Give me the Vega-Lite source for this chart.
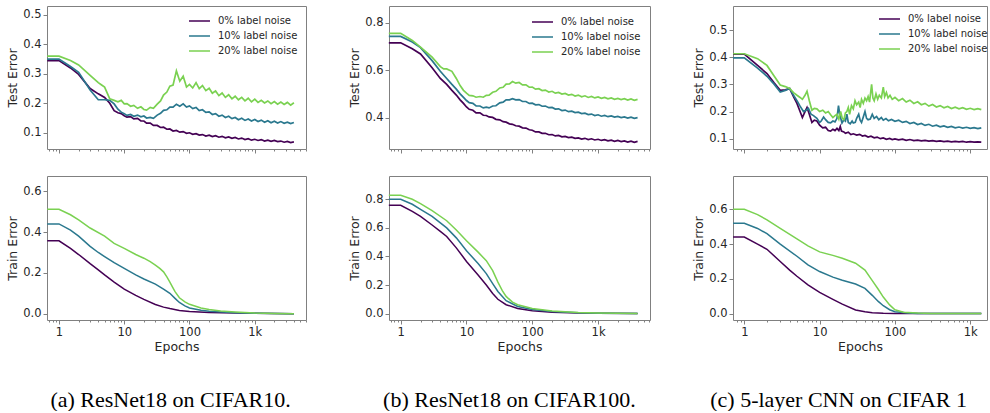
{
"$schema": "https://vega.github.io/schema/vega-lite/v6.json",
"background": "white",
"padding": {"left": 6, "top": 5, "right": 0, "bottom": 0},
"config": {
  "font": "DejaVu Sans",
  "view": {"stroke": "#808080", "strokeWidth": 1},
  "axis": {"domain": false, "grid": false, "tickColor": "#808080", "labelColor": "#262626", "titleColor": "#262626", "labelFontSize": 11.5, "titleFontSize": 12.5, "titleFontWeight": "normal", "labelFont": "DejaVu Sans", "titleFont": "DejaVu Sans", "tickSize": 4, "labelPadding": 2, "titlePadding": 3, "labelOverlap": false, "labelFlush": false},
  "legend": {"padding": 0, "symbolType": "stroke", "symbolSize": 441, "symbolStrokeWidth": 1.5, "labelFontSize": 10, "labelColor": "#262626", "labelFont": "DejaVu Sans", "labelOffset": 7, "rowPadding": 1, "clipHeight": 14},
  "title": {"font": "Liberation Serif", "fontSize": 22, "fontWeight": "normal", "color": "black", "orient": "bottom", "baseline": "alphabetic", "offset": 36}
},
"datasets": {
"a": [
{"m":"test","s":0,"e":0.66,"v":0.345},{"m":"test","s":0,"e":1,"v":0.345},{"m":"test","s":0,"e":1.5,"v":0.32},{"m":"test","s":0,"e":2,"v":0.298},{"m":"test","s":0,"e":3,"v":0.25},{"m":"test","s":0,"e":4,"v":0.232},{"m":"test","s":0,"e":5,"v":0.22},{"m":"test","s":0,"e":6,"v":0.2},{"m":"test","s":0,"e":7,"v":0.175},{"m":"test","s":0,"e":8,"v":0.168},{"m":"test","s":0,"e":9,"v":0.165},{"m":"test","s":0,"e":10,"v":0.158},
{"m":"test","s":0,"e":11,"v":0.153},{"m":"test","s":0,"e":12.5,"v":0.155},{"m":"test","s":0,"e":14,"v":0.147},{"m":"test","s":0,"e":16,"v":0.149},{"m":"test","s":0,"e":18,"v":0.14},{"m":"test","s":0,"e":20,"v":0.14},{"m":"test","s":0,"e":22,"v":0.133},{"m":"test","s":0,"e":25,"v":0.133},{"m":"test","s":0,"e":28,"v":0.125},{"m":"test","s":0,"e":32,"v":0.125},{"m":"test","s":0,"e":36,"v":0.118},{"m":"test","s":0,"e":40,"v":0.119},{"m":"test","s":0,"e":45,"v":0.112},{"m":"test","s":0,"e":50,"v":0.113},{"m":"test","s":0,"e":56,"v":0.106},{"m":"test","s":0,"e":63,"v":0.108},{"m":"test","s":0,"e":71,"v":0.102},{"m":"test","s":0,"e":80,"v":0.104},{"m":"test","s":0,"e":90,"v":0.098},{"m":"test","s":0,"e":100,"v":0.1},{"m":"test","s":0,"e":112,"v":0.095},{"m":"test","s":0,"e":126,"v":0.097},{"m":"test","s":0,"e":141,"v":0.092},{"m":"test","s":0,"e":158,"v":0.094},{"m":"test","s":0,"e":178,"v":0.089},{"m":"test","s":0,"e":200,"v":0.092},{"m":"test","s":0,"e":224,"v":0.087},{"m":"test","s":0,"e":251,"v":0.09},{"m":"test","s":0,"e":282,"v":0.085},{"m":"test","s":0,"e":316,"v":0.088},{"m":"test","s":0,"e":355,"v":0.083},{"m":"test","s":0,"e":398,"v":0.086},{"m":"test","s":0,"e":447,"v":0.081},{"m":"test","s":0,"e":501,"v":0.084},{"m":"test","s":0,"e":562,"v":0.079},{"m":"test","s":0,"e":631,"v":0.082},{"m":"test","s":0,"e":708,"v":0.077},{"m":"test","s":0,"e":794,"v":0.08},{"m":"test","s":0,"e":891,"v":0.075},{"m":"test","s":0,"e":1000,"v":0.078},{"m":"test","s":0,"e":1122,"v":0.074},{"m":"test","s":0,"e":1259,"v":0.077},{"m":"test","s":0,"e":1413,"v":0.072},{"m":"test","s":0,"e":1585,"v":0.075},{"m":"test","s":0,"e":1778,"v":0.071},{"m":"test","s":0,"e":1995,"v":0.074},{"m":"test","s":0,"e":2239,"v":0.07},{"m":"test","s":0,"e":2512,"v":0.072},{"m":"test","s":0,"e":2818,"v":0.068},{"m":"test","s":0,"e":3162,"v":0.071},{"m":"test","s":0,"e":3548,"v":0.067},{"m":"test","s":0,"e":3981,"v":0.069},
{"m":"test","s":10,"e":0.66,"v":0.35},{"m":"test","s":10,"e":1,"v":0.35},{"m":"test","s":10,"e":1.5,"v":0.325},{"m":"test","s":10,"e":2,"v":0.305},{"m":"test","s":10,"e":3,"v":0.245},{"m":"test","s":10,"e":4,"v":0.212},{"m":"test","s":10,"e":5,"v":0.212},{"m":"test","s":10,"e":6,"v":0.21},{"m":"test","s":10,"e":7,"v":0.198},{"m":"test","s":10,"e":8,"v":0.18},{"m":"test","s":10,"e":9,"v":0.17},{"m":"test","s":10,"e":10,"v":0.165},
{"m":"test","s":10,"e":11,"v":0.159},{"m":"test","s":10,"e":12.5,"v":0.162},{"m":"test","s":10,"e":14,"v":0.156},{"m":"test","s":10,"e":16,"v":0.16},{"m":"test","s":10,"e":18,"v":0.154},{"m":"test","s":10,"e":20,"v":0.157},{"m":"test","s":10,"e":22,"v":0.15},{"m":"test","s":10,"e":25,"v":0.152},{"m":"test","s":10,"e":28,"v":0.149},{"m":"test","s":10,"e":32,"v":0.16},{"m":"test","s":10,"e":36,"v":0.166},{"m":"test","s":10,"e":40,"v":0.176},{"m":"test","s":10,"e":45,"v":0.178},{"m":"test","s":10,"e":50,"v":0.187},{"m":"test","s":10,"e":56,"v":0.187},{"m":"test","s":10,"e":63,"v":0.197},{"m":"test","s":10,"e":71,"v":0.19},{"m":"test","s":10,"e":80,"v":0.198},{"m":"test","s":10,"e":90,"v":0.187},{"m":"test","s":10,"e":100,"v":0.191},{"m":"test","s":10,"e":112,"v":0.182},{"m":"test","s":10,"e":126,"v":0.186},{"m":"test","s":10,"e":141,"v":0.175},{"m":"test","s":10,"e":158,"v":0.178},{"m":"test","s":10,"e":178,"v":0.169},{"m":"test","s":10,"e":200,"v":0.171},{"m":"test","s":10,"e":224,"v":0.162},{"m":"test","s":10,"e":251,"v":0.165},{"m":"test","s":10,"e":282,"v":0.156},{"m":"test","s":10,"e":316,"v":0.16},{"m":"test","s":10,"e":355,"v":0.152},{"m":"test","s":10,"e":398,"v":0.156},{"m":"test","s":10,"e":447,"v":0.148},{"m":"test","s":10,"e":501,"v":0.152},{"m":"test","s":10,"e":562,"v":0.144},{"m":"test","s":10,"e":631,"v":0.149},{"m":"test","s":10,"e":708,"v":0.142},{"m":"test","s":10,"e":794,"v":0.147},{"m":"test","s":10,"e":891,"v":0.14},{"m":"test","s":10,"e":1000,"v":0.145},{"m":"test","s":10,"e":1122,"v":0.138},{"m":"test","s":10,"e":1259,"v":0.143},{"m":"test","s":10,"e":1413,"v":0.136},{"m":"test","s":10,"e":1585,"v":0.141},{"m":"test","s":10,"e":1778,"v":0.134},{"m":"test","s":10,"e":1995,"v":0.139},{"m":"test","s":10,"e":2239,"v":0.133},{"m":"test","s":10,"e":2512,"v":0.138},{"m":"test","s":10,"e":2818,"v":0.132},{"m":"test","s":10,"e":3162,"v":0.136},{"m":"test","s":10,"e":3548,"v":0.131},{"m":"test","s":10,"e":3981,"v":0.135},
{"m":"test","s":20,"e":0.66,"v":0.36},{"m":"test","s":20,"e":1,"v":0.36},{"m":"test","s":20,"e":1.5,"v":0.345},{"m":"test","s":20,"e":2,"v":0.33},{"m":"test","s":20,"e":3,"v":0.295},{"m":"test","s":20,"e":4,"v":0.27},{"m":"test","s":20,"e":4.5,"v":0.262},{"m":"test","s":20,"e":5,"v":0.255},{"m":"test","s":20,"e":6,"v":0.215},{"m":"test","s":20,"e":7,"v":0.21},{"m":"test","s":20,"e":8,"v":0.205},{"m":"test","s":20,"e":9,"v":0.21},{"m":"test","s":20,"e":10,"v":0.198},
{"m":"test","s":20,"e":11,"v":0.199},{"m":"test","s":20,"e":12.5,"v":0.19},{"m":"test","s":20,"e":14,"v":0.193},{"m":"test","s":20,"e":16,"v":0.183},{"m":"test","s":20,"e":18,"v":0.188},{"m":"test","s":20,"e":20,"v":0.179},{"m":"test","s":20,"e":22,"v":0.177},{"m":"test","s":20,"e":25,"v":0.186},{"m":"test","s":20,"e":28,"v":0.183},{"m":"test","s":20,"e":32,"v":0.197},{"m":"test","s":20,"e":36,"v":0.208},{"m":"test","s":20,"e":40,"v":0.228},{"m":"test","s":20,"e":45,"v":0.238},{"m":"test","s":20,"e":50,"v":0.258},{"m":"test","s":20,"e":56,"v":0.262},{"m":"test","s":20,"e":63,"v":0.31},{"m":"test","s":20,"e":71,"v":0.275},{"m":"test","s":20,"e":80,"v":0.292},{"m":"test","s":20,"e":90,"v":0.255},{"m":"test","s":20,"e":100,"v":0.264},{"m":"test","s":20,"e":112,"v":0.252},{"m":"test","s":20,"e":126,"v":0.27},{"m":"test","s":20,"e":141,"v":0.25},{"m":"test","s":20,"e":158,"v":0.26},{"m":"test","s":20,"e":178,"v":0.243},{"m":"test","s":20,"e":200,"v":0.251},{"m":"test","s":20,"e":224,"v":0.234},{"m":"test","s":20,"e":251,"v":0.242},{"m":"test","s":20,"e":282,"v":0.226},{"m":"test","s":20,"e":316,"v":0.235},{"m":"test","s":20,"e":355,"v":0.22},{"m":"test","s":20,"e":398,"v":0.229},{"m":"test","s":20,"e":447,"v":0.215},{"m":"test","s":20,"e":501,"v":0.224},{"m":"test","s":20,"e":562,"v":0.212},{"m":"test","s":20,"e":631,"v":0.22},{"m":"test","s":20,"e":708,"v":0.208},{"m":"test","s":20,"e":794,"v":0.217},{"m":"test","s":20,"e":891,"v":0.205},{"m":"test","s":20,"e":1000,"v":0.214},{"m":"test","s":20,"e":1122,"v":0.203},{"m":"test","s":20,"e":1259,"v":0.21},{"m":"test","s":20,"e":1413,"v":0.201},{"m":"test","s":20,"e":1585,"v":0.208},{"m":"test","s":20,"e":1778,"v":0.199},{"m":"test","s":20,"e":1995,"v":0.206},{"m":"test","s":20,"e":2239,"v":0.197},{"m":"test","s":20,"e":2512,"v":0.204},{"m":"test","s":20,"e":2818,"v":0.196},{"m":"test","s":20,"e":3162,"v":0.203},{"m":"test","s":20,"e":3548,"v":0.194},{"m":"test","s":20,"e":3981,"v":0.202},
{"m":"train","s":0,"e":0.66,"v":0.357},{"m":"train","s":0,"e":1,"v":0.357},{"m":"train","s":0,"e":1.5,"v":0.32},{"m":"train","s":0,"e":2,"v":0.29},{"m":"train","s":0,"e":3,"v":0.245},{"m":"train","s":0,"e":4,"v":0.215},{"m":"train","s":0,"e":5,"v":0.19},{"m":"train","s":0,"e":7,"v":0.155},{"m":"train","s":0,"e":10,"v":0.12},{"m":"train","s":0,"e":15,"v":0.09},{"m":"train","s":0,"e":20,"v":0.07},{"m":"train","s":0,"e":30,"v":0.045},{"m":"train","s":0,"e":40,"v":0.032},{"m":"train","s":0,"e":50,"v":0.025},{"m":"train","s":0,"e":70,"v":0.016},{"m":"train","s":0,"e":100,"v":0.011},{"m":"train","s":0,"e":200,"v":0.006},{"m":"train","s":0,"e":500,"v":0.003},{"m":"train","s":0,"e":1000,"v":0.0015},{"m":"train","s":0,"e":2000,"v":0.0005},{"m":"train","s":0,"e":3981,"v":0},
{"m":"train","s":10,"e":0.66,"v":0.44},{"m":"train","s":10,"e":1,"v":0.44},{"m":"train","s":10,"e":1.5,"v":0.41},{"m":"train","s":10,"e":2,"v":0.38},{"m":"train","s":10,"e":3,"v":0.33},{"m":"train","s":10,"e":4,"v":0.3},{"m":"train","s":10,"e":5,"v":0.28},{"m":"train","s":10,"e":7,"v":0.25},{"m":"train","s":10,"e":10,"v":0.222},{"m":"train","s":10,"e":15,"v":0.19},{"m":"train","s":10,"e":20,"v":0.17},{"m":"train","s":10,"e":30,"v":0.145},{"m":"train","s":10,"e":40,"v":0.12},{"m":"train","s":10,"e":50,"v":0.1},{"m":"train","s":10,"e":60,"v":0.075},{"m":"train","s":10,"e":70,"v":0.055},{"m":"train","s":10,"e":85,"v":0.038},{"m":"train","s":10,"e":100,"v":0.028},{"m":"train","s":10,"e":150,"v":0.017},{"m":"train","s":10,"e":200,"v":0.012},{"m":"train","s":10,"e":500,"v":0.005},{"m":"train","s":10,"e":1000,"v":0.002},{"m":"train","s":10,"e":2000,"v":0.001},{"m":"train","s":10,"e":3981,"v":0},
{"m":"train","s":20,"e":0.66,"v":0.512},{"m":"train","s":20,"e":1,"v":0.512},{"m":"train","s":20,"e":1.5,"v":0.485},{"m":"train","s":20,"e":2,"v":0.46},{"m":"train","s":20,"e":3,"v":0.42},{"m":"train","s":20,"e":5,"v":0.38},{"m":"train","s":20,"e":7,"v":0.345},{"m":"train","s":20,"e":10,"v":0.32},{"m":"train","s":20,"e":15,"v":0.29},{"m":"train","s":20,"e":20,"v":0.272},{"m":"train","s":20,"e":25,"v":0.255},{"m":"train","s":20,"e":30,"v":0.238},{"m":"train","s":20,"e":35,"v":0.222},{"m":"train","s":20,"e":40,"v":0.205},{"m":"train","s":20,"e":45,"v":0.18},{"m":"train","s":20,"e":50,"v":0.155},{"m":"train","s":20,"e":55,"v":0.13},{"m":"train","s":20,"e":60,"v":0.108},{"m":"train","s":20,"e":70,"v":0.078},{"m":"train","s":20,"e":85,"v":0.058},{"m":"train","s":20,"e":100,"v":0.046},{"m":"train","s":20,"e":150,"v":0.028},{"m":"train","s":20,"e":200,"v":0.02},{"m":"train","s":20,"e":300,"v":0.013},{"m":"train","s":20,"e":500,"v":0.008},{"m":"train","s":20,"e":1000,"v":0.003},{"m":"train","s":20,"e":2000,"v":0.001},{"m":"train","s":20,"e":3981,"v":0}
],
"b": [
{"m":"test","s":0,"e":0.66,"v":0.715},{"m":"test","s":0,"e":1,"v":0.715},{"m":"test","s":0,"e":1.5,"v":0.69},{"m":"test","s":0,"e":2,"v":0.668},{"m":"test","s":0,"e":3,"v":0.61},{"m":"test","s":0,"e":4,"v":0.565},{"m":"test","s":0,"e":5,"v":0.54},{"m":"test","s":0,"e":6,"v":0.515},{"m":"test","s":0,"e":7,"v":0.495},{"m":"test","s":0,"e":8,"v":0.475},{"m":"test","s":0,"e":9,"v":0.46},{"m":"test","s":0,"e":10,"v":0.445},
{"m":"test","s":0,"e":11,"v":0.435},{"m":"test","s":0,"e":12.5,"v":0.431},{"m":"test","s":0,"e":14,"v":0.42},{"m":"test","s":0,"e":16,"v":0.42},{"m":"test","s":0,"e":18,"v":0.41},{"m":"test","s":0,"e":20,"v":0.409},{"m":"test","s":0,"e":22,"v":0.403},{"m":"test","s":0,"e":25,"v":0.401},{"m":"test","s":0,"e":28,"v":0.393},{"m":"test","s":0,"e":32,"v":0.391},{"m":"test","s":0,"e":36,"v":0.383},{"m":"test","s":0,"e":40,"v":0.381},{"m":"test","s":0,"e":45,"v":0.374},{"m":"test","s":0,"e":50,"v":0.372},{"m":"test","s":0,"e":56,"v":0.366},{"m":"test","s":0,"e":63,"v":0.364},{"m":"test","s":0,"e":71,"v":0.357},{"m":"test","s":0,"e":80,"v":0.356},{"m":"test","s":0,"e":90,"v":0.349},{"m":"test","s":0,"e":100,"v":0.347},{"m":"test","s":0,"e":112,"v":0.34},{"m":"test","s":0,"e":126,"v":0.34},{"m":"test","s":0,"e":141,"v":0.334},{"m":"test","s":0,"e":158,"v":0.334},{"m":"test","s":0,"e":178,"v":0.328},{"m":"test","s":0,"e":200,"v":0.329},{"m":"test","s":0,"e":224,"v":0.323},{"m":"test","s":0,"e":251,"v":0.325},{"m":"test","s":0,"e":282,"v":0.319},{"m":"test","s":0,"e":316,"v":0.321},{"m":"test","s":0,"e":355,"v":0.316},{"m":"test","s":0,"e":398,"v":0.318},{"m":"test","s":0,"e":447,"v":0.313},{"m":"test","s":0,"e":501,"v":0.315},{"m":"test","s":0,"e":562,"v":0.31},{"m":"test","s":0,"e":631,"v":0.313},{"m":"test","s":0,"e":708,"v":0.308},{"m":"test","s":0,"e":794,"v":0.311},{"m":"test","s":0,"e":891,"v":0.306},{"m":"test","s":0,"e":1000,"v":0.309},{"m":"test","s":0,"e":1122,"v":0.304},{"m":"test","s":0,"e":1259,"v":0.307},{"m":"test","s":0,"e":1413,"v":0.302},{"m":"test","s":0,"e":1585,"v":0.305},{"m":"test","s":0,"e":1778,"v":0.3},{"m":"test","s":0,"e":1995,"v":0.304},{"m":"test","s":0,"e":2239,"v":0.299},{"m":"test","s":0,"e":2512,"v":0.302},{"m":"test","s":0,"e":2818,"v":0.297},{"m":"test","s":0,"e":3162,"v":0.301},{"m":"test","s":0,"e":3548,"v":0.296},{"m":"test","s":0,"e":3981,"v":0.3},
{"m":"test","s":10,"e":0.66,"v":0.742},{"m":"test","s":10,"e":1,"v":0.742},{"m":"test","s":10,"e":1.5,"v":0.718},{"m":"test","s":10,"e":2,"v":0.695},{"m":"test","s":10,"e":3,"v":0.64},{"m":"test","s":10,"e":4,"v":0.595},{"m":"test","s":10,"e":5,"v":0.565},{"m":"test","s":10,"e":6,"v":0.54},{"m":"test","s":10,"e":7,"v":0.52},{"m":"test","s":10,"e":8,"v":0.5},{"m":"test","s":10,"e":9,"v":0.485},{"m":"test","s":10,"e":10,"v":0.472},
{"m":"test","s":10,"e":11,"v":0.463},{"m":"test","s":10,"e":12.5,"v":0.46},{"m":"test","s":10,"e":14,"v":0.449},{"m":"test","s":10,"e":16,"v":0.449},{"m":"test","s":10,"e":18,"v":0.441},{"m":"test","s":10,"e":20,"v":0.444},{"m":"test","s":10,"e":22,"v":0.441},{"m":"test","s":10,"e":25,"v":0.449},{"m":"test","s":10,"e":28,"v":0.45},{"m":"test","s":10,"e":32,"v":0.462},{"m":"test","s":10,"e":36,"v":0.465},{"m":"test","s":10,"e":40,"v":0.475},{"m":"test","s":10,"e":45,"v":0.475},{"m":"test","s":10,"e":50,"v":0.48},{"m":"test","s":10,"e":56,"v":0.475},{"m":"test","s":10,"e":63,"v":0.476},{"m":"test","s":10,"e":71,"v":0.468},{"m":"test","s":10,"e":80,"v":0.468},{"m":"test","s":10,"e":90,"v":0.46},{"m":"test","s":10,"e":100,"v":0.461},{"m":"test","s":10,"e":112,"v":0.454},{"m":"test","s":10,"e":126,"v":0.455},{"m":"test","s":10,"e":141,"v":0.448},{"m":"test","s":10,"e":158,"v":0.449},{"m":"test","s":10,"e":178,"v":0.442},{"m":"test","s":10,"e":200,"v":0.443},{"m":"test","s":10,"e":224,"v":0.436},{"m":"test","s":10,"e":251,"v":0.437},{"m":"test","s":10,"e":282,"v":0.43},{"m":"test","s":10,"e":316,"v":0.432},{"m":"test","s":10,"e":355,"v":0.425},{"m":"test","s":10,"e":398,"v":0.427},{"m":"test","s":10,"e":447,"v":0.421},{"m":"test","s":10,"e":501,"v":0.423},{"m":"test","s":10,"e":562,"v":0.417},{"m":"test","s":10,"e":631,"v":0.419},{"m":"test","s":10,"e":708,"v":0.413},{"m":"test","s":10,"e":794,"v":0.415},{"m":"test","s":10,"e":891,"v":0.409},{"m":"test","s":10,"e":1000,"v":0.412},{"m":"test","s":10,"e":1122,"v":0.406},{"m":"test","s":10,"e":1259,"v":0.409},{"m":"test","s":10,"e":1413,"v":0.404},{"m":"test","s":10,"e":1585,"v":0.407},{"m":"test","s":10,"e":1778,"v":0.402},{"m":"test","s":10,"e":1995,"v":0.405},{"m":"test","s":10,"e":2239,"v":0.4},{"m":"test","s":10,"e":2512,"v":0.403},{"m":"test","s":10,"e":2818,"v":0.398},{"m":"test","s":10,"e":3162,"v":0.402},{"m":"test","s":10,"e":3548,"v":0.397},{"m":"test","s":10,"e":3981,"v":0.4},
{"m":"test","s":20,"e":0.66,"v":0.755},{"m":"test","s":20,"e":1,"v":0.755},{"m":"test","s":20,"e":1.5,"v":0.725},{"m":"test","s":20,"e":2,"v":0.697},{"m":"test","s":20,"e":3,"v":0.655},{"m":"test","s":20,"e":4,"v":0.615},{"m":"test","s":20,"e":4.5,"v":0.605},{"m":"test","s":20,"e":5,"v":0.605},{"m":"test","s":20,"e":6,"v":0.595},{"m":"test","s":20,"e":7,"v":0.565},{"m":"test","s":20,"e":8,"v":0.535},{"m":"test","s":20,"e":9,"v":0.515},{"m":"test","s":20,"e":10,"v":0.503},
{"m":"test","s":20,"e":11,"v":0.494},{"m":"test","s":20,"e":12.5,"v":0.492},{"m":"test","s":20,"e":14,"v":0.486},{"m":"test","s":20,"e":16,"v":0.489},{"m":"test","s":20,"e":18,"v":0.486},{"m":"test","s":20,"e":20,"v":0.494},{"m":"test","s":20,"e":22,"v":0.495},{"m":"test","s":20,"e":25,"v":0.507},{"m":"test","s":20,"e":28,"v":0.511},{"m":"test","s":20,"e":32,"v":0.525},{"m":"test","s":20,"e":36,"v":0.528},{"m":"test","s":20,"e":40,"v":0.541},{"m":"test","s":20,"e":45,"v":0.542},{"m":"test","s":20,"e":50,"v":0.552},{"m":"test","s":20,"e":56,"v":0.545},{"m":"test","s":20,"e":63,"v":0.548},{"m":"test","s":20,"e":71,"v":0.538},{"m":"test","s":20,"e":80,"v":0.538},{"m":"test","s":20,"e":90,"v":0.528},{"m":"test","s":20,"e":100,"v":0.529},{"m":"test","s":20,"e":112,"v":0.52},{"m":"test","s":20,"e":126,"v":0.522},{"m":"test","s":20,"e":141,"v":0.514},{"m":"test","s":20,"e":158,"v":0.516},{"m":"test","s":20,"e":178,"v":0.508},{"m":"test","s":20,"e":200,"v":0.511},{"m":"test","s":20,"e":224,"v":0.503},{"m":"test","s":20,"e":251,"v":0.506},{"m":"test","s":20,"e":282,"v":0.499},{"m":"test","s":20,"e":316,"v":0.502},{"m":"test","s":20,"e":355,"v":0.495},{"m":"test","s":20,"e":398,"v":0.498},{"m":"test","s":20,"e":447,"v":0.491},{"m":"test","s":20,"e":501,"v":0.495},{"m":"test","s":20,"e":562,"v":0.488},{"m":"test","s":20,"e":631,"v":0.492},{"m":"test","s":20,"e":708,"v":0.485},{"m":"test","s":20,"e":794,"v":0.489},{"m":"test","s":20,"e":891,"v":0.483},{"m":"test","s":20,"e":1000,"v":0.487},{"m":"test","s":20,"e":1122,"v":0.481},{"m":"test","s":20,"e":1259,"v":0.485},{"m":"test","s":20,"e":1413,"v":0.479},{"m":"test","s":20,"e":1585,"v":0.483},{"m":"test","s":20,"e":1778,"v":0.477},{"m":"test","s":20,"e":1995,"v":0.481},{"m":"test","s":20,"e":2239,"v":0.476},{"m":"test","s":20,"e":2512,"v":0.48},{"m":"test","s":20,"e":2818,"v":0.474},{"m":"test","s":20,"e":3162,"v":0.479},{"m":"test","s":20,"e":3548,"v":0.473},{"m":"test","s":20,"e":3981,"v":0.477},
{"m":"train","s":0,"e":0.66,"v":0.758},{"m":"train","s":0,"e":1,"v":0.758},{"m":"train","s":0,"e":1.5,"v":0.715},{"m":"train","s":0,"e":2,"v":0.68},{"m":"train","s":0,"e":3,"v":0.62},{"m":"train","s":0,"e":4,"v":0.575},{"m":"train","s":0,"e":5,"v":0.54},{"m":"train","s":0,"e":7,"v":0.46},{"m":"train","s":0,"e":10,"v":0.365},{"m":"train","s":0,"e":15,"v":0.27},{"m":"train","s":0,"e":20,"v":0.2},{"m":"train","s":0,"e":25,"v":0.14},{"m":"train","s":0,"e":30,"v":0.1},{"m":"train","s":0,"e":40,"v":0.062},{"m":"train","s":0,"e":60,"v":0.036},{"m":"train","s":0,"e":100,"v":0.02},{"m":"train","s":0,"e":200,"v":0.01},{"m":"train","s":0,"e":500,"v":0.004},{"m":"train","s":0,"e":1000,"v":0.002},{"m":"train","s":0,"e":3981,"v":0},
{"m":"train","s":10,"e":0.66,"v":0.8},{"m":"train","s":10,"e":1,"v":0.8},{"m":"train","s":10,"e":1.5,"v":0.765},{"m":"train","s":10,"e":2,"v":0.73},{"m":"train","s":10,"e":3,"v":0.68},{"m":"train","s":10,"e":5,"v":0.6},{"m":"train","s":10,"e":7,"v":0.53},{"m":"train","s":10,"e":10,"v":0.44},{"m":"train","s":10,"e":15,"v":0.35},{"m":"train","s":10,"e":20,"v":0.28},{"m":"train","s":10,"e":25,"v":0.21},{"m":"train","s":10,"e":30,"v":0.155},{"m":"train","s":10,"e":40,"v":0.09},{"m":"train","s":10,"e":60,"v":0.05},{"m":"train","s":10,"e":100,"v":0.028},{"m":"train","s":10,"e":200,"v":0.014},{"m":"train","s":10,"e":500,"v":0.006},{"m":"train","s":10,"e":1000,"v":0.003},{"m":"train","s":10,"e":3981,"v":0},
{"m":"train","s":20,"e":0.66,"v":0.828},{"m":"train","s":20,"e":1,"v":0.828},{"m":"train","s":20,"e":1.5,"v":0.8},{"m":"train","s":20,"e":2,"v":0.77},{"m":"train","s":20,"e":3,"v":0.72},{"m":"train","s":20,"e":5,"v":0.65},{"m":"train","s":20,"e":7,"v":0.585},{"m":"train","s":20,"e":10,"v":0.51},{"m":"train","s":20,"e":15,"v":0.43},{"m":"train","s":20,"e":20,"v":0.37},{"m":"train","s":20,"e":25,"v":0.3},{"m":"train","s":20,"e":30,"v":0.22},{"m":"train","s":20,"e":35,"v":0.16},{"m":"train","s":20,"e":40,"v":0.12},{"m":"train","s":20,"e":50,"v":0.08},{"m":"train","s":20,"e":60,"v":0.062},{"m":"train","s":20,"e":100,"v":0.036},{"m":"train","s":20,"e":200,"v":0.018},{"m":"train","s":20,"e":500,"v":0.008},{"m":"train","s":20,"e":1000,"v":0.004},{"m":"train","s":20,"e":3981,"v":0}
],
"c": [
{"m":"test","s":0,"e":0.71,"v":0.412},{"m":"test","s":0,"e":1,"v":0.412},{"m":"test","s":0,"e":1.5,"v":0.37},{"m":"test","s":0,"e":2,"v":0.34},{"m":"test","s":0,"e":2.5,"v":0.305},{"m":"test","s":0,"e":3,"v":0.278},{"m":"test","s":0,"e":3.5,"v":0.28},{"m":"test","s":0,"e":4,"v":0.285},{"m":"test","s":0,"e":4.5,"v":0.255},{"m":"test","s":0,"e":5,"v":0.23},{"m":"test","s":0,"e":5.5,"v":0.2},{"m":"test","s":0,"e":5.9,"v":0.178},{"m":"test","s":0,"e":6.4,"v":0.2},{"m":"test","s":0,"e":6.8,"v":0.215},{"m":"test","s":0,"e":7.3,"v":0.19},{"m":"test","s":0,"e":7.9,"v":0.16},{"m":"test","s":0,"e":8.5,"v":0.168},{"m":"test","s":0,"e":9.2,"v":0.165},{"m":"test","s":0,"e":10,"v":0.15},{"m":"test","s":0,"e":11,"v":0.14},{"m":"test","s":0,"e":12,"v":0.142},{"m":"test","s":0,"e":13,"v":0.13},{"m":"test","s":0,"e":14,"v":0.128},{"m":"test","s":0,"e":15,"v":0.135},{"m":"test","s":0,"e":16,"v":0.13},{"m":"test","s":0,"e":17,"v":0.138},{"m":"test","s":0,"e":18,"v":0.13},{"m":"test","s":0,"e":18.8,"v":0.145},{"m":"test","s":0,"e":19.5,"v":0.128},{"m":"test","s":0,"e":21,"v":0.125},{"m":"test","s":0,"e":22,"v":0.12},{"m":"test","s":0,"e":24,"v":0.124},{"m":"test","s":0,"e":26,"v":0.115},{"m":"test","s":0,"e":28,"v":0.118},{"m":"test","s":0,"e":31,"v":0.113},{"m":"test","s":0,"e":34,"v":0.116},{"m":"test","s":0,"e":37,"v":0.11},{"m":"test","s":0,"e":40,"v":0.112},{"m":"test","s":0,"e":44,"v":0.106},{"m":"test","s":0,"e":48,"v":0.109},{"m":"test","s":0,"e":53,"v":0.103},{"m":"test","s":0,"e":58,"v":0.106},{"m":"test","s":0,"e":64,"v":0.1},{"m":"test","s":0,"e":70,"v":0.103},{"m":"test","s":0,"e":77,"v":0.098},{"m":"test","s":0,"e":85,"v":0.101},{"m":"test","s":0,"e":92,"v":0.097},{"m":"test","s":0,"e":100,"v":0.099},{"m":"test","s":0,"e":112,"v":0.096},{"m":"test","s":0,"e":126,"v":0.098},{"m":"test","s":0,"e":141,"v":0.094},{"m":"test","s":0,"e":158,"v":0.097},{"m":"test","s":0,"e":178,"v":0.093},{"m":"test","s":0,"e":200,"v":0.095},{"m":"test","s":0,"e":224,"v":0.092},{"m":"test","s":0,"e":251,"v":0.094},{"m":"test","s":0,"e":282,"v":0.091},{"m":"test","s":0,"e":316,"v":0.093},{"m":"test","s":0,"e":355,"v":0.09},{"m":"test","s":0,"e":398,"v":0.092},{"m":"test","s":0,"e":447,"v":0.089},{"m":"test","s":0,"e":501,"v":0.091},{"m":"test","s":0,"e":562,"v":0.088},{"m":"test","s":0,"e":631,"v":0.09},{"m":"test","s":0,"e":708,"v":0.088},{"m":"test","s":0,"e":794,"v":0.09},{"m":"test","s":0,"e":891,"v":0.087},{"m":"test","s":0,"e":1000,"v":0.089},{"m":"test","s":0,"e":1122,"v":0.087},{"m":"test","s":0,"e":1259,"v":0.088},{"m":"test","s":0,"e":1400,"v":0.087},
{"m":"test","s":10,"e":0.71,"v":0.398},{"m":"test","s":10,"e":1,"v":0.398},{"m":"test","s":10,"e":1.5,"v":0.36},{"m":"test","s":10,"e":2,"v":0.33},{"m":"test","s":10,"e":2.5,"v":0.3},{"m":"test","s":10,"e":3,"v":0.272},{"m":"test","s":10,"e":3.5,"v":0.278},{"m":"test","s":10,"e":4,"v":0.285},{"m":"test","s":10,"e":4.5,"v":0.26},{"m":"test","s":10,"e":5,"v":0.24},{"m":"test","s":10,"e":5.5,"v":0.22},{"m":"test","s":10,"e":6.1,"v":0.2},{"m":"test","s":10,"e":6.6,"v":0.205},{"m":"test","s":10,"e":7.1,"v":0.212},{"m":"test","s":10,"e":7.7,"v":0.19},{"m":"test","s":10,"e":8.3,"v":0.185},{"m":"test","s":10,"e":9.2,"v":0.175},{"m":"test","s":10,"e":10,"v":0.16},{"m":"test","s":10,"e":10.5,"v":0.165},{"m":"test","s":10,"e":11.3,"v":0.18},{"m":"test","s":10,"e":12,"v":0.17},{"m":"test","s":10,"e":13,"v":0.16},{"m":"test","s":10,"e":14,"v":0.158},{"m":"test","s":10,"e":15,"v":0.165},{"m":"test","s":10,"e":16,"v":0.162},{"m":"test","s":10,"e":17,"v":0.175},{"m":"test","s":10,"e":17.8,"v":0.222},{"m":"test","s":10,"e":18.5,"v":0.19},{"m":"test","s":10,"e":19.8,"v":0.158},{"m":"test","s":10,"e":21,"v":0.17},{"m":"test","s":10,"e":22,"v":0.165},{"m":"test","s":10,"e":23,"v":0.19},{"m":"test","s":10,"e":24,"v":0.16},{"m":"test","s":10,"e":25.5,"v":0.155},{"m":"test","s":10,"e":27,"v":0.165},{"m":"test","s":10,"e":28,"v":0.158},{"m":"test","s":10,"e":29.7,"v":0.16},{"m":"test","s":10,"e":31,"v":0.175},{"m":"test","s":10,"e":33,"v":0.19},{"m":"test","s":10,"e":34.5,"v":0.168},{"m":"test","s":10,"e":36,"v":0.16},{"m":"test","s":10,"e":38,"v":0.18},{"m":"test","s":10,"e":40,"v":0.2},{"m":"test","s":10,"e":42,"v":0.175},{"m":"test","s":10,"e":44,"v":0.17},{"m":"test","s":10,"e":47,"v":0.172},{"m":"test","s":10,"e":50,"v":0.19},{"m":"test","s":10,"e":53,"v":0.175},{"m":"test","s":10,"e":57,"v":0.182},{"m":"test","s":10,"e":61,"v":0.17},{"m":"test","s":10,"e":66,"v":0.178},{"m":"test","s":10,"e":70,"v":0.168},{"m":"test","s":10,"e":76,"v":0.174},{"m":"test","s":10,"e":82,"v":0.166},{"m":"test","s":10,"e":90,"v":0.171},{"m":"test","s":10,"e":100,"v":0.164},{"m":"test","s":10,"e":112,"v":0.168},{"m":"test","s":10,"e":126,"v":0.16},{"m":"test","s":10,"e":141,"v":0.164},{"m":"test","s":10,"e":158,"v":0.156},{"m":"test","s":10,"e":178,"v":0.16},{"m":"test","s":10,"e":200,"v":0.152},{"m":"test","s":10,"e":224,"v":0.156},{"m":"test","s":10,"e":251,"v":0.149},{"m":"test","s":10,"e":282,"v":0.153},{"m":"test","s":10,"e":316,"v":0.146},{"m":"test","s":10,"e":355,"v":0.15},{"m":"test","s":10,"e":398,"v":0.144},{"m":"test","s":10,"e":447,"v":0.147},{"m":"test","s":10,"e":501,"v":0.142},{"m":"test","s":10,"e":562,"v":0.145},{"m":"test","s":10,"e":631,"v":0.14},{"m":"test","s":10,"e":708,"v":0.143},{"m":"test","s":10,"e":794,"v":0.139},{"m":"test","s":10,"e":891,"v":0.142},{"m":"test","s":10,"e":1000,"v":0.138},{"m":"test","s":10,"e":1122,"v":0.141},{"m":"test","s":10,"e":1259,"v":0.137},{"m":"test","s":10,"e":1400,"v":0.14},
{"m":"test","s":20,"e":0.71,"v":0.413},{"m":"test","s":20,"e":1,"v":0.413},{"m":"test","s":20,"e":1.5,"v":0.395},{"m":"test","s":20,"e":2,"v":0.37},{"m":"test","s":20,"e":2.5,"v":0.33},{"m":"test","s":20,"e":3,"v":0.298},{"m":"test","s":20,"e":3.5,"v":0.292},{"m":"test","s":20,"e":4,"v":0.285},{"m":"test","s":20,"e":4.5,"v":0.27},{"m":"test","s":20,"e":5,"v":0.26},{"m":"test","s":20,"e":5.5,"v":0.252},{"m":"test","s":20,"e":5.9,"v":0.245},{"m":"test","s":20,"e":6.4,"v":0.26},{"m":"test","s":20,"e":6.8,"v":0.275},{"m":"test","s":20,"e":7.3,"v":0.24},{"m":"test","s":20,"e":7.9,"v":0.205},{"m":"test","s":20,"e":8.5,"v":0.212},{"m":"test","s":20,"e":9.2,"v":0.21},{"m":"test","s":20,"e":10,"v":0.2},{"m":"test","s":20,"e":11,"v":0.205},{"m":"test","s":20,"e":12,"v":0.195},{"m":"test","s":20,"e":13,"v":0.2},{"m":"test","s":20,"e":14,"v":0.188},{"m":"test","s":20,"e":15,"v":0.178},{"m":"test","s":20,"e":16,"v":0.185},{"m":"test","s":20,"e":17,"v":0.19},{"m":"test","s":20,"e":18,"v":0.172},{"m":"test","s":20,"e":19,"v":0.2},{"m":"test","s":20,"e":20,"v":0.175},{"m":"test","s":20,"e":21,"v":0.17},{"m":"test","s":20,"e":22,"v":0.195},{"m":"test","s":20,"e":23,"v":0.2},{"m":"test","s":20,"e":24,"v":0.215},{"m":"test","s":20,"e":25,"v":0.19},{"m":"test","s":20,"e":26.5,"v":0.222},{"m":"test","s":20,"e":28,"v":0.21},{"m":"test","s":20,"e":29.5,"v":0.24},{"m":"test","s":20,"e":31,"v":0.225},{"m":"test","s":20,"e":33,"v":0.235},{"m":"test","s":20,"e":34.5,"v":0.215},{"m":"test","s":20,"e":36,"v":0.245},{"m":"test","s":20,"e":38,"v":0.23},{"m":"test","s":20,"e":40,"v":0.25},{"m":"test","s":20,"e":42,"v":0.24},{"m":"test","s":20,"e":44,"v":0.255},{"m":"test","s":20,"e":46,"v":0.235},{"m":"test","s":20,"e":49,"v":0.3},{"m":"test","s":20,"e":51,"v":0.25},{"m":"test","s":20,"e":53,"v":0.24},{"m":"test","s":20,"e":56,"v":0.265},{"m":"test","s":20,"e":59,"v":0.245},{"m":"test","s":20,"e":62,"v":0.26},{"m":"test","s":20,"e":66,"v":0.25},{"m":"test","s":20,"e":70,"v":0.29},{"m":"test","s":20,"e":73,"v":0.255},{"m":"test","s":20,"e":77,"v":0.27},{"m":"test","s":20,"e":81,"v":0.25},{"m":"test","s":20,"e":86,"v":0.26},{"m":"test","s":20,"e":92,"v":0.245},{"m":"test","s":20,"e":100,"v":0.252},{"m":"test","s":20,"e":112,"v":0.24},{"m":"test","s":20,"e":126,"v":0.248},{"m":"test","s":20,"e":141,"v":0.235},{"m":"test","s":20,"e":158,"v":0.242},{"m":"test","s":20,"e":178,"v":0.23},{"m":"test","s":20,"e":200,"v":0.236},{"m":"test","s":20,"e":224,"v":0.225},{"m":"test","s":20,"e":251,"v":0.23},{"m":"test","s":20,"e":282,"v":0.22},{"m":"test","s":20,"e":316,"v":0.226},{"m":"test","s":20,"e":355,"v":0.217},{"m":"test","s":20,"e":398,"v":0.222},{"m":"test","s":20,"e":447,"v":0.214},{"m":"test","s":20,"e":501,"v":0.219},{"m":"test","s":20,"e":562,"v":0.211},{"m":"test","s":20,"e":631,"v":0.216},{"m":"test","s":20,"e":708,"v":0.21},{"m":"test","s":20,"e":794,"v":0.214},{"m":"test","s":20,"e":891,"v":0.208},{"m":"test","s":20,"e":1000,"v":0.212},{"m":"test","s":20,"e":1122,"v":0.207},{"m":"test","s":20,"e":1259,"v":0.211},{"m":"test","s":20,"e":1400,"v":0.207},
{"m":"train","s":0,"e":0.71,"v":0.441},{"m":"train","s":0,"e":1,"v":0.441},{"m":"train","s":0,"e":1.5,"v":0.4},{"m":"train","s":0,"e":2,"v":0.37},{"m":"train","s":0,"e":3,"v":0.3},{"m":"train","s":0,"e":4,"v":0.25},{"m":"train","s":0,"e":5,"v":0.215},{"m":"train","s":0,"e":7,"v":0.165},{"m":"train","s":0,"e":10,"v":0.122},{"m":"train","s":0,"e":15,"v":0.082},{"m":"train","s":0,"e":20,"v":0.054},{"m":"train","s":0,"e":30,"v":0.021},{"m":"train","s":0,"e":40,"v":0.01},{"m":"train","s":0,"e":50,"v":0.005},{"m":"train","s":0,"e":70,"v":0.002},{"m":"train","s":0,"e":100,"v":0.001},{"m":"train","s":0,"e":200,"v":0},{"m":"train","s":0,"e":1400,"v":0},
{"m":"train","s":10,"e":0.71,"v":0.52},{"m":"train","s":10,"e":1,"v":0.52},{"m":"train","s":10,"e":1.5,"v":0.49},{"m":"train","s":10,"e":2,"v":0.46},{"m":"train","s":10,"e":3,"v":0.4},{"m":"train","s":10,"e":5,"v":0.33},{"m":"train","s":10,"e":7,"v":0.28},{"m":"train","s":10,"e":10,"v":0.242},{"m":"train","s":10,"e":15,"v":0.21},{"m":"train","s":10,"e":20,"v":0.192},{"m":"train","s":10,"e":30,"v":0.17},{"m":"train","s":10,"e":40,"v":0.145},{"m":"train","s":10,"e":50,"v":0.105},{"m":"train","s":10,"e":60,"v":0.07},{"m":"train","s":10,"e":70,"v":0.045},{"m":"train","s":10,"e":85,"v":0.022},{"m":"train","s":10,"e":100,"v":0.011},{"m":"train","s":10,"e":150,"v":0.003},{"m":"train","s":10,"e":200,"v":0.001},{"m":"train","s":10,"e":1400,"v":0},
{"m":"train","s":20,"e":0.71,"v":0.6},{"m":"train","s":20,"e":1,"v":0.6},{"m":"train","s":20,"e":1.5,"v":0.57},{"m":"train","s":20,"e":2,"v":0.54},{"m":"train","s":20,"e":3,"v":0.49},{"m":"train","s":20,"e":5,"v":0.43},{"m":"train","s":20,"e":7,"v":0.39},{"m":"train","s":20,"e":10,"v":0.355},{"m":"train","s":20,"e":15,"v":0.335},{"m":"train","s":20,"e":20,"v":0.318},{"m":"train","s":20,"e":30,"v":0.29},{"m":"train","s":20,"e":40,"v":0.25},{"m":"train","s":20,"e":50,"v":0.19},{"m":"train","s":20,"e":60,"v":0.14},{"m":"train","s":20,"e":70,"v":0.095},{"m":"train","s":20,"e":85,"v":0.05},{"m":"train","s":20,"e":100,"v":0.022},{"m":"train","s":20,"e":130,"v":0.008},{"m":"train","s":20,"e":200,"v":0.003},{"m":"train","s":20,"e":300,"v":0.001},{"m":"train","s":20,"e":1400,"v":0}
]
},
"spacing": 41,
"resolve": {"scale": {"color": "independent"}},
"hconcat": [
{
  "title": {"text": "(a) ResNet18 on CIFAR10.", "anchor": "middle", "dx": 14},
  "spacing": 21,
  "resolve": {"scale": {"color": "independent"}},
  "vconcat": [
    {
      "width": 259, "height": 143,
      "data": {"name": "a"},
      "transform": [{"filter": "datum.m == 'test'"}],
      "mark": {"type": "line", "strokeWidth": 1.7},
      "encoding": {
        "x": {"field": "e", "type": "quantitative", "scale": {"type": "log", "domain": [0.655, 6100], "nice": false}, "axis": {"title": null, "labels": false, "values": [0.7,0.8,0.9,1,2,3,4,5,6,7,8,9,10,20,30,40,50,60,70,80,90,100,200,300,400,500,600,700,800,900,1000,2000,3000,4000,5000,6000], "tickSize": {"condition": {"test": "datum.value == 1 || datum.value == 10 || datum.value == 100 || datum.value == 1000", "value": 4}, "value": 2}}},
        "y": {"field": "v", "type": "quantitative", "scale": {"domain": [0.045, 0.53], "nice": false, "zero": false}, "axis": {"title": "Test Error", "values": [0.1,0.2,0.3,0.4,0.5], "format": ".1f"}},
        "color": {"field": "s", "type": "nominal", "scale": {"domain": [0,10,20], "range": ["#440154","#2a788e","#7ad151"]}, "legend": {"title": null, "labelExpr": "datum.label + '% label noise'", "orient": "top-right", "offset": 8}}
      }
    },
    {
      "width": 259, "height": 144,
      "data": {"name": "a"},
      "transform": [{"filter": "datum.m == 'train'"}],
      "mark": {"type": "line", "strokeWidth": 1.5},
      "encoding": {
        "x": {"field": "e", "type": "quantitative", "scale": {"type": "log", "domain": [0.655, 6100], "nice": false}, "axis": {"title": "Epochs", "values": [0.7,0.8,0.9,1,2,3,4,5,6,7,8,9,10,20,30,40,50,60,70,80,90,100,200,300,400,500,600,700,800,900,1000,2000,3000,4000,5000,6000], "labelExpr": "datum.value == 1 ? '1' : datum.value == 10 ? '10' : datum.value == 100 ? '100' : datum.value == 1000 ? '1k' : ''", "tickSize": {"condition": {"test": "datum.value == 1 || datum.value == 10 || datum.value == 100 || datum.value == 1000", "value": 4}, "value": 2}}},
        "y": {"field": "v", "type": "quantitative", "scale": {"domain": [-0.031, 0.675], "nice": false, "zero": false}, "axis": {"title": "Train Error", "values": [0,0.2,0.4,0.6], "format": ".1f"}},
        "color": {"field": "s", "type": "nominal", "scale": {"domain": [0,10,20], "range": ["#440154","#2a788e","#7ad151"]}, "legend": null}
      }
    }
  ]
},
{
  "title": {"text": "(b) ResNet18 on CIFAR100.", "anchor": "middle", "dx": 10},
  "spacing": 21,
  "resolve": {"scale": {"color": "independent"}},
  "vconcat": [
    {
      "width": 261, "height": 143,
      "data": {"name": "b"},
      "transform": [{"filter": "datum.m == 'test'"}],
      "mark": {"type": "line", "strokeWidth": 1.7},
      "encoding": {
        "x": {"field": "e", "type": "quantitative", "scale": {"type": "log", "domain": [0.664, 6150], "nice": false}, "axis": {"title": null, "labels": false, "values": [0.7,0.8,0.9,1,2,3,4,5,6,7,8,9,10,20,30,40,50,60,70,80,90,100,200,300,400,500,600,700,800,900,1000,2000,3000,4000,5000,6000], "tickSize": {"condition": {"test": "datum.value == 1 || datum.value == 10 || datum.value == 100 || datum.value == 1000", "value": 4}, "value": 2}}},
        "y": {"field": "v", "type": "quantitative", "scale": {"domain": [0.268, 0.87], "nice": false, "zero": false}, "axis": {"title": "Test Error", "values": [0.4,0.6,0.8], "format": ".1f"}},
        "color": {"field": "s", "type": "nominal", "scale": {"domain": [0,10,20], "range": ["#440154","#2a788e","#7ad151"]}, "legend": {"title": null, "labelExpr": "datum.label + '% label noise'", "orient": "top-right", "offset": 9}}
      }
    },
    {
      "width": 261, "height": 144,
      "data": {"name": "b"},
      "transform": [{"filter": "datum.m == 'train'"}],
      "mark": {"type": "line", "strokeWidth": 1.5},
      "encoding": {
        "x": {"field": "e", "type": "quantitative", "scale": {"type": "log", "domain": [0.664, 6150], "nice": false}, "axis": {"title": "Epochs", "values": [0.7,0.8,0.9,1,2,3,4,5,6,7,8,9,10,20,30,40,50,60,70,80,90,100,200,300,400,500,600,700,800,900,1000,2000,3000,4000,5000,6000], "labelExpr": "datum.value == 1 ? '1' : datum.value == 10 ? '10' : datum.value == 100 ? '100' : datum.value == 1000 ? '1k' : ''", "tickSize": {"condition": {"test": "datum.value == 1 || datum.value == 10 || datum.value == 100 || datum.value == 1000", "value": 4}, "value": 2}}},
        "y": {"field": "v", "type": "quantitative", "scale": {"domain": [-0.045, 0.963], "nice": false, "zero": false}, "axis": {"title": "Train Error", "values": [0,0.2,0.4,0.6,0.8], "format": ".1f"}},
        "color": {"field": "s", "type": "nominal", "scale": {"domain": [0,10,20], "range": ["#440154","#2a788e","#7ad151"]}, "legend": null}
      }
    }
  ]
},
{
  "title": {"text": "(c) 5-layer CNN on CIFAR 1", "anchor": "start", "dx": 18},
  "spacing": 21,
  "resolve": {"scale": {"color": "independent"}},
  "vconcat": [
    {
      "width": 254, "height": 143,
      "data": {"name": "c"},
      "transform": [{"filter": "datum.m == 'test'"}],
      "mark": {"type": "line", "strokeWidth": 1.7},
      "encoding": {
        "x": {"field": "e", "type": "quantitative", "scale": {"type": "log", "domain": [0.708, 1667], "nice": false}, "axis": {"title": null, "labels": false, "values": [0.8,0.9,1,2,3,4,5,6,7,8,9,10,20,30,40,50,60,70,80,90,100,200,300,400,500,600,700,800,900,1000], "tickSize": {"condition": {"test": "datum.value == 1 || datum.value == 10 || datum.value == 100 || datum.value == 1000", "value": 4}, "value": 2}}},
        "y": {"field": "v", "type": "quantitative", "scale": {"domain": [0.062, 0.589], "nice": false, "zero": false}, "axis": {"title": "Test Error", "values": [0.1,0.2,0.3,0.4,0.5], "format": ".1f"}},
        "color": {"field": "s", "type": "nominal", "scale": {"domain": [0,10,20], "range": ["#440154","#2a788e","#7ad151"]}, "legend": {"title": null, "labelExpr": "datum.label + '% label noise'", "orient": "none", "legendX": 145, "legendY": 6}}
      }
    },
    {
      "width": 254, "height": 144,
      "data": {"name": "c"},
      "transform": [{"filter": "datum.m == 'train'"}],
      "mark": {"type": "line", "strokeWidth": 1.5},
      "encoding": {
        "x": {"field": "e", "type": "quantitative", "scale": {"type": "log", "domain": [0.708, 1667], "nice": false}, "axis": {"title": "Epochs", "values": [0.8,0.9,1,2,3,4,5,6,7,8,9,10,20,30,40,50,60,70,80,90,100,200,300,400,500,600,700,800,900,1000], "labelExpr": "datum.value == 1 ? '1' : datum.value == 10 ? '10' : datum.value == 100 ? '100' : datum.value == 1000 ? '1k' : ''", "tickSize": {"condition": {"test": "datum.value == 1 || datum.value == 10 || datum.value == 100 || datum.value == 1000", "value": 4}, "value": 2}}},
        "y": {"field": "v", "type": "quantitative", "scale": {"domain": [-0.037, 0.792], "nice": false, "zero": false}, "axis": {"title": "Train Error", "values": [0,0.2,0.4,0.6], "format": ".1f"}},
        "color": {"field": "s", "type": "nominal", "scale": {"domain": [0,10,20], "range": ["#440154","#2a788e","#7ad151"]}, "legend": null}
      }
    }
  ]
}
]
}
